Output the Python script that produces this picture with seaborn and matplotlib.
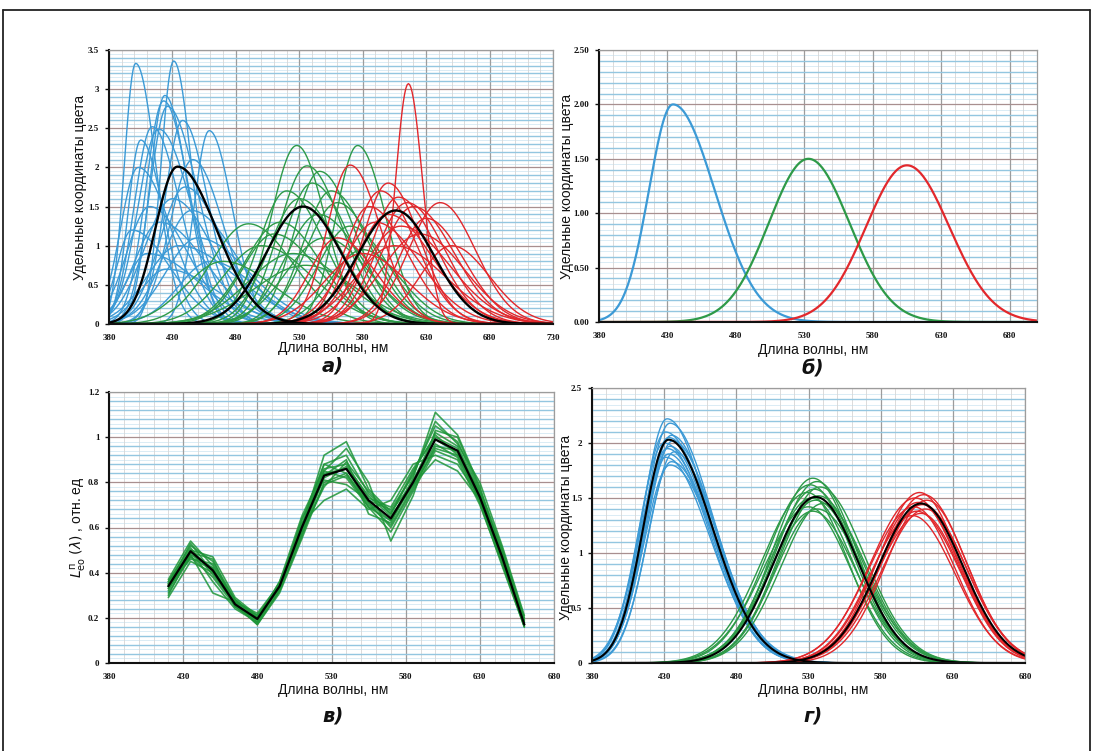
import numpy as np
import pandas as pd
import matplotlib
matplotlib.use("Agg")
import matplotlib.pyplot as plt
import seaborn as sns
from matplotlib.lines import Line2D
from matplotlib.ticker import MultipleLocator

sns.set_theme(style="white")
plt.rcParams["font.family"] = ["Liberation Sans", "DejaVu Sans"]

BLUE = "#3c9ad6"
GREEN = "#2e9a48"
RED = "#e2282c"
DARK_GREEN = "#1e9538"

# ---------------- panel а: individual observers (peak nm, height, widths) ----
a_blue_peak = [401, 431, 424, 423, 426, 414, 419, 459, 446, 403, 440, 430, 412,
               445, 420, 398, 450, 435, 410, 460, 425, 438, 405]
a_blue_height = [3.33, 3.36, 2.92, 2.85, 2.78, 2.52, 2.49, 2.47, 2.10, 2.00, 1.75,
                 1.60, 1.50, 1.45, 1.30, 1.20, 1.10, 1.00, 0.90, 0.80, 0.70, 2.60, 2.35]
a_blue_sig_l = [9, 10, 12, 14, 14, 14, 16, 12, 18, 14, 20, 22, 18, 22, 20, 12,
                25, 25, 16, 25, 20, 14, 10]
a_blue_sig_r = [16, 14, 18, 20, 24, 22, 26, 18, 24, 26, 30, 32, 30, 35, 36, 30,
                40, 45, 40, 35, 40, 20, 18]

a_green_peak = [528, 576, 536, 546, 540, 520, 555, 530, 560, 490, 545, 515, 570,
                500, 550, 525, 580, 470, 535, 510]
a_green_height = [2.28, 2.28, 2.02, 1.95, 1.80, 1.70, 1.70, 1.60, 1.55, 1.28, 1.40,
                  1.30, 1.25, 1.00, 1.10, 0.90, 0.95, 0.80, 0.75, 1.15]
a_green_sig_l = [20, 17, 22, 20, 22, 22, 22, 24, 25, 30, 26, 28, 25, 30, 30, 35,
                 25, 30, 40, 25]
a_green_sig_r = [22, 22, 28, 28, 30, 30, 30, 32, 30, 35, 34, 32, 30, 40, 35, 40,
                 30, 40, 40, 35]

a_red_peak = [616, 570, 600, 594, 608, 615, 641, 585, 620, 600, 630, 590, 610,
              560, 625, 605, 650, 580]
a_red_height = [3.07, 2.03, 1.80, 1.70, 1.62, 1.55, 1.55, 1.50, 1.50, 1.40, 1.35,
                1.30, 1.25, 1.10, 1.15, 1.00, 1.00, 0.90]
a_red_sig_l = [10, 18, 20, 22, 22, 24, 25, 20, 25, 25, 22, 25, 28, 22, 30, 30, 25, 30]
a_red_sig_r = [11, 24, 25, 28, 30, 30, 28, 30, 32, 35, 30, 35, 38, 30, 35, 40, 30, 35]

# averaged (standard) functions: peak nm, height, left width, right width
mean_blue = (434, 2.01, 17.5, 30.5)
mean_green = (533, 1.50, 29.0, 30.0)
mean_red = (606, 1.45, 30.0, 30.0)

# ---------------- panel б: model functions ----------------
b_blue = (434, 2.00, 17.5, 30.5)
b_green = (533, 1.50, 29.0, 30.0)
b_red = (605, 1.44, 30.0, 31.0)

# ---------------- panel в: relative spectral radiance ----------------
c_nm = [420, 435, 450, 465, 480, 495, 510, 525, 540, 555, 570, 585, 600, 615, 630, 645, 660]
c_mean = [0.34, 0.495, 0.41, 0.26, 0.195, 0.34, 0.60, 0.83, 0.86, 0.72, 0.64, 0.80,
          0.99, 0.94, 0.735, 0.47, 0.17]
c_curves = [
    [0.36, 0.52, 0.45, 0.28, 0.20, 0.35, 0.63, 0.88, 0.92, 0.75, 0.66, 0.84, 1.05, 0.98, 0.76, 0.49, 0.18],
    [0.31, 0.47, 0.38, 0.25, 0.18, 0.32, 0.57, 0.79, 0.83, 0.70, 0.61, 0.78, 0.95, 0.92, 0.72, 0.45, 0.17],
    [0.35, 0.50, 0.47, 0.29, 0.21, 0.35, 0.60, 0.92, 0.98, 0.77, 0.67, 0.80, 1.02, 0.96, 0.75, 0.50, 0.19],
    [0.33, 0.48, 0.31, 0.27, 0.19, 0.34, 0.58, 0.84, 0.86, 0.71, 0.63, 0.82, 1.11, 1.01, 0.78, 0.47, 0.16],
    [0.29, 0.45, 0.40, 0.26, 0.17, 0.31, 0.55, 0.80, 0.84, 0.69, 0.58, 0.76, 0.94, 0.90, 0.70, 0.44, 0.16],
    [0.37, 0.54, 0.43, 0.28, 0.20, 0.36, 0.65, 0.86, 0.88, 0.73, 0.69, 0.86, 1.00, 0.95, 0.74, 0.48, 0.18],
    [0.34, 0.49, 0.42, 0.25, 0.19, 0.33, 0.62, 0.72, 0.77, 0.68, 0.72, 0.88, 0.92, 0.88, 0.73, 0.46, 0.17],
    [0.32, 0.50, 0.36, 0.24, 0.18, 0.35, 0.61, 0.85, 0.95, 0.80, 0.54, 0.74, 1.03, 1.00, 0.77, 0.51, 0.20],
    [0.35, 0.46, 0.44, 0.27, 0.21, 0.34, 0.59, 0.82, 0.87, 0.74, 0.65, 0.79, 0.97, 0.91, 0.72, 0.46, 0.17],
    [0.36, 0.51, 0.39, 0.26, 0.17, 0.32, 0.56, 0.83, 0.90, 0.66, 0.62, 0.81, 0.99, 0.93, 0.74, 0.48, 0.18],
    [0.33, 0.47, 0.41, 0.28, 0.20, 0.33, 0.64, 0.81, 0.79, 0.72, 0.68, 0.83, 1.07, 0.97, 0.80, 0.52, 0.21],
    [0.30, 0.49, 0.46, 0.25, 0.18, 0.36, 0.60, 0.88, 0.84, 0.71, 0.60, 0.77, 0.96, 0.94, 0.71, 0.43, 0.16],
    [0.34, 0.53, 0.40, 0.27, 0.22, 0.35, 0.58, 0.78, 0.89, 0.76, 0.66, 0.85, 1.01, 0.92, 0.76, 0.49, 0.19],
    [0.35, 0.48, 0.42, 0.26, 0.19, 0.34, 0.61, 0.85, 0.82, 0.69, 0.63, 0.79, 0.90, 0.85, 0.72, 0.45, 0.17],
]

# ---------------- panel г: recomputed observer functions ----------------
d_blue_peak = [432, 434, 431, 435, 433, 436, 430, 434, 432, 437, 433, 431, 435, 434]
d_blue_height = [2.22, 2.18, 2.10, 2.07, 2.05, 2.02, 2.00, 1.97, 1.95, 1.92, 1.90, 1.87, 1.83, 1.80]
d_blue_sig_l = [17, 18, 17.5, 18, 17, 18.5, 17.5, 18, 17, 18, 17.5, 18.5, 17, 18]
d_blue_sig_r = [29, 30, 31, 29.5, 30.5, 30, 32, 29, 31, 30, 29.5, 31, 30.5, 32]

d_green_peak = [533, 536, 531, 538, 534, 529, 537, 532, 535, 540, 530, 536, 533]
d_green_height = [1.68, 1.65, 1.62, 1.60, 1.58, 1.55, 1.52, 1.50, 1.48, 1.45, 1.42, 1.40, 1.38]
d_green_sig_l = [28, 29, 30, 28.5, 29.5, 31, 28, 29, 30, 29, 31, 28.5, 30]
d_green_sig_r = [29, 28, 30, 31, 29.5, 28, 30.5, 29, 31, 30, 29, 32, 30]

d_red_peak = [607, 610, 604, 612, 606, 609, 603, 611, 605, 608, 602]
d_red_height = [1.55, 1.53, 1.50, 1.48, 1.46, 1.44, 1.42, 1.40, 1.38, 1.36, 1.34]
d_red_sig_l = [29, 30, 31, 28.5, 30, 29.5, 31, 30, 28, 30.5, 29]
d_red_sig_r = [28, 29, 30, 28, 29.5, 30, 28.5, 29, 30, 28, 29.5]

d_mean_blue = (433, 2.03, 17.5, 30.5)
d_mean_green = (535, 1.51, 29.0, 29.5)
d_mean_red = (608, 1.45, 29.5, 29.0)

x_labels_a = [380, 430, 480, 530, 580, 630, 680, 730]
x_labels_bcd = [380, 430, 480, 530, 580, 630, 680]
y_labels_a = ["0", "0.5", "1", "1.5", "2", "2.5", "3", "3.5"]
y_labels_b = ["0.00", "0.50", "1.00", "1.50", "2.00", "2.50"]
y_labels_c = ["0", "0.2", "0.4", "0.6", "0.8", "1", "1.2"]
y_labels_d = ["0", "0.5", "1", "1.5", "2", "2.5"]

Y_TITLE = "Удельные координаты цвета"
X_TITLE = "Длина волны, нм"


def band(peak, height, sig_l, sig_r, x):
    s = np.where(x < peak, sig_l, sig_r)
    return height * np.exp(-0.5 * ((x - peak) / s) ** 2)


def curves_frame(groups, x):
    parts = []
    for name, peaks, heights, sl, sr in groups:
        for i, (p, h, a, b) in enumerate(zip(peaks, heights, sl, sr)):
            parts.append(pd.DataFrame({"nm": x, "value": band(p, h, a, b, x),
                                       "band": name, "curve": f"{name}_{i}"}))
    return pd.concat(parts, ignore_index=True)


def single_groups(blue, green, red):
    return [(name, [m[0]], [m[1]], [m[2]], [m[3]])
            for name, m in (("blue", blue), ("green", green), ("red", red))]


W, H = 1093, 751
fig = plt.figure(figsize=(W / 100, H / 100), dpi=100)
fig.patch.set_facecolor("white")


def px_axes(left, top, right, bottom):
    return fig.add_axes([left / W, 1 - bottom / H, (right - left) / W, (bottom - top) / H])


def ftext(px, py, s, **kw):
    fig.text(px / W, 1 - py / H, s, **kw)


def style_axes(ax, xmax, ymax, ystep, xticks, ylabels):
    ax.set_xlim(380, xmax)
    ax.set_ylim(0, ymax)
    ax.set_xticks(xticks)
    ax.set_xticklabels([str(v) for v in xticks])
    ax.set_yticks(np.arange(len(ylabels)) * ystep)
    ax.set_yticklabels(ylabels)
    ax.xaxis.set_minor_locator(MultipleLocator(10))
    ax.yaxis.set_minor_locator(MultipleLocator(ystep / 5))
    ax.set_axisbelow(True)
    ax.grid(True, axis="x", which="major", color="#9c9c9c", lw=0.9)
    ax.grid(True, axis="x", which="minor", color="#d6d6d6", lw=0.6)
    ax.grid(True, axis="y", which="major", color="#a88f8f", lw=0.9)
    ax.grid(True, axis="y", which="minor", color="#93c6e0", lw=1.0)
    for k in range(int(round(ymax / ystep)) * 5):
        ax.axhline((k + 0.5) * ystep / 5, color="#d4e9f4", lw=0.6, zorder=0)
    for side in ("left", "bottom"):
        ax.spines[side].set_color("#111111")
        ax.spines[side].set_linewidth(1.5)
    for side in ("top", "right"):
        ax.spines[side].set_color("#9c9c9c")
        ax.spines[side].set_linewidth(0.9)
    ax.tick_params(axis="both", which="major", length=3, width=1, pad=4,
                   labelsize=6.5, colors="#111111", left=True, bottom=False)
    ax.tick_params(which="minor", length=0)
    for lbl in ax.get_xticklabels() + ax.get_yticklabels():
        lbl.set_fontfamily("Liberation Serif")
        lbl.set_fontweight("bold")
    ax.set_xlabel("")
    ax.set_ylabel("")


palette = {"blue": BLUE, "green": GREEN, "red": RED}

# ---------------- а ----------------
wl_a = np.arange(380, 731, 1.0)
ax_a = px_axes(109, 50, 553, 324)
df_a = curves_frame([
    ("blue", a_blue_peak, a_blue_height, a_blue_sig_l, a_blue_sig_r),
    ("green", a_green_peak, a_green_height, a_green_sig_l, a_green_sig_r),
    ("red", a_red_peak, a_red_height, a_red_sig_l, a_red_sig_r),
], wl_a)
sns.lineplot(data=df_a, x="nm", y="value", hue="band", units="curve", estimator=None,
             palette=palette, lw=1.0, legend=False, ax=ax_a)
df_am = curves_frame(single_groups(mean_blue, mean_green, mean_red), wl_a)
sns.lineplot(data=df_am, x="nm", y="value", units="curve", estimator=None,
             color="black", lw=1.7, legend=False, ax=ax_a)
style_axes(ax_a, 730, 3.5, 0.5, x_labels_a, y_labels_a)

# ---------------- б ----------------
wl_b = np.arange(380, 701, 1.0)
ax_b = px_axes(599, 50, 1037, 322)
df_b = curves_frame(single_groups(b_blue, b_green, b_red), wl_b)
sns.lineplot(data=df_b, x="nm", y="value", hue="band", units="curve", estimator=None,
             palette=palette, lw=1.6, legend=False, ax=ax_b)
style_axes(ax_b, 700, 2.5, 0.5, x_labels_bcd, y_labels_b)

# ---------------- в ----------------
ax_c = px_axes(109, 392, 554, 663)
df_c = pd.concat([pd.DataFrame({"nm": c_nm, "value": vals, "curve": i})
                  for i, vals in enumerate(c_curves)], ignore_index=True)
sns.lineplot(data=df_c, x="nm", y="value", units="curve", estimator=None,
             color=DARK_GREEN, lw=1.2, alpha=0.85, legend=False, ax=ax_c)
sns.lineplot(x=c_nm, y=c_mean, color="black", lw=1.6, ax=ax_c)
style_axes(ax_c, 680, 1.2, 0.2, x_labels_bcd, y_labels_c)

# ---------------- г ----------------
wl_d = np.arange(380, 681, 1.0)
ax_d = px_axes(592, 388, 1025, 663)
df_d = curves_frame([
    ("blue", d_blue_peak, d_blue_height, d_blue_sig_l, d_blue_sig_r),
    ("green", d_green_peak, d_green_height, d_green_sig_l, d_green_sig_r),
    ("red", d_red_peak, d_red_height, d_red_sig_l, d_red_sig_r),
], wl_d)
sns.lineplot(data=df_d, x="nm", y="value", hue="band", units="curve", estimator=None,
             palette=palette, lw=1.0, legend=False, ax=ax_d)
df_dm = curves_frame(single_groups(d_mean_blue, d_mean_green, d_mean_red), wl_d)
sns.lineplot(data=df_dm, x="nm", y="value", units="curve", estimator=None,
             color="black", lw=1.5, legend=False, ax=ax_d)
style_axes(ax_d, 680, 2.5, 0.5, x_labels_bcd, y_labels_d)

# ---------------- titles and captions ----------------
lab = dict(fontsize=10, color="#111111", family=["Liberation Sans", "DejaVu Sans"])
cap = dict(fontsize=14, fontweight="bold", fontstyle="italic", color="#111111",
           family=["DejaVu Sans"], ha="center", va="center")

ftext(80, 187, Y_TITLE, rotation=90, ha="center", va="center", **lab)
ftext(567, 186, Y_TITLE, rotation=90, ha="center", va="center", **lab)
ftext(566, 527, Y_TITLE, rotation=90, ha="center", va="center", **lab)
ftext(79, 527, r"$L_{\mathrm{eo}}^{\mathrm{п}}$ $(\lambda)$ , отн. ед", rotation=90,
      ha="center", va="center", **lab)

ftext(333, 348, X_TITLE, ha="center", va="center", **lab)
ftext(813, 350, X_TITLE, ha="center", va="center", **lab)
ftext(333, 690, X_TITLE, ha="center", va="center", **lab)
ftext(813, 690, X_TITLE, ha="center", va="center", **lab)

ftext(333, 366, "а)", **cap)
ftext(813, 369, "б)", **cap)
ftext(333, 716, "в)", **cap)
ftext(813, 716, "г)", **cap)

# outer frame of the figure block
for xs, ys in (([3, 3], [10, H]), ([3, 1090], [10, 10]), ([1090, 1090], [10, H])):
    fig.add_artist(Line2D([v / W for v in xs], [1 - v / H for v in ys],
                          color="#222222", lw=1.3, transform=fig.transFigure))

fig.savefig("out.png", dpi=100, facecolor="white")
